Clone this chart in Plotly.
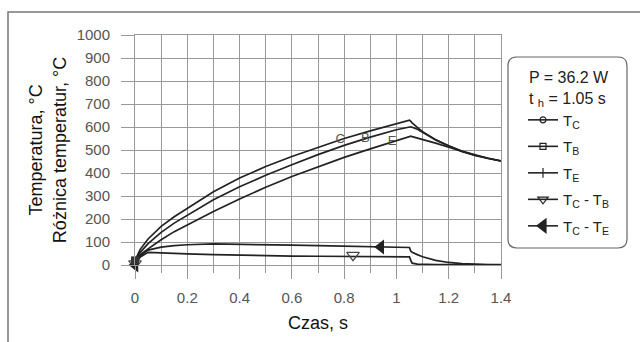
import numpy as np
import plotly.graph_objects as go

# ---------------- data ----------------
t = [0, 0.02, 0.05, 0.1, 0.15, 0.2, 0.3, 0.4, 0.5, 0.6, 0.7, 0.8, 0.9, 1.0, 1.05,
     1.055, 1.06, 1.08, 1.1, 1.15, 1.2, 1.25, 1.3, 1.35, 1.4]
T_C = [20, 68, 113, 168, 210, 247, 318, 378, 428, 472, 512, 550, 583, 613, 630,
       625, 618, 598, 580, 545, 518, 495, 478, 464, 453]
T_B = [20, 55, 93, 142, 182, 217, 284, 340, 390, 436, 480, 520, 556, 588, 602,
       601, 599, 590, 577, 544, 517, 494, 477, 463, 452]
T_E = [20, 45, 70, 110, 145, 175, 233, 287, 338, 385, 428, 468, 505, 540, 560,
       560, 558, 552, 545, 530, 512, 493, 476, 463, 452]
dT_CB = [0, 35, 55, 52, 50, 48, 45, 42, 40, 39, 38, 37, 36, 35, 35,
         20, 8, 4, 3, 2, 2, 1, 1, 1, 1]
dT_CE = [0, 40, 65, 78, 84, 88, 92, 91, 89, 86, 84, 81, 79, 77, 76,
         60, 55, 45, 36, 20, 11, 6, 3, 2, 2]

letter_t = [0.785, 0.881, 0.983]          # positions of C, B, E labels
letters = ["C", "B", "E"]
tri_cb_t = [0, 0.834]                     # open triangle markers on T_C - T_B
tri_ce_t = [0, 0.94]                      # filled triangle markers on T_C - T_E

x_ticks = [0, 0.2, 0.4, 0.6, 0.8, 1.0, 1.2, 1.4]
x_tick_text = ["0", "0.2", "0.4", "0.6", "0.8", "1", "1.2", "1.4"]
y_ticks = list(range(0, 1001, 100))

legend_title = "P = 36.2 W<br>t <sub>h</sub> = 1.05 s"
names = ["T<sub>C</sub>", "T<sub>B</sub>", "T<sub>E</sub>",
         "T<sub>C</sub> - T<sub>B</sub>", "T<sub>C</sub> - T<sub>E</sub>"]

# ---------------- styling ----------------
W, H = 640, 342
ML, MR, MT, MB = 135, 139, 35, 77
PW, PH = W - ML - MR, H - MT - MB
LINE = "#222222"
GRID = "#999999"
FONT = "Liberation Sans, Arial, sans-serif"


def px(p):
    return (p - ML) / PW


def py(p):
    return (H - MB - p) / PH


fig = go.Figure()

for ys in (T_C, T_B, T_E, dT_CB, dT_CE):
    fig.add_trace(go.Scatter(x=t, y=ys, mode="lines", showlegend=False,
                             line=dict(color=LINE, width=1.7), hoverinfo="skip"))

# letter markers on the temperature curves
ly = [np.interp(letter_t[0], t, T_C), np.interp(letter_t[1], t, T_B),
      np.interp(letter_t[2], t, T_E)]
fig.add_trace(go.Scatter(x=letter_t, y=ly, mode="text", text=letters,
                         textfont=dict(family=FONT, size=13, color="#555"),
                         showlegend=False, hoverinfo="skip"))

fig.add_trace(go.Scatter(x=tri_cb_t, y=list(np.interp(tri_cb_t, t, dT_CB) + 6),
                         mode="markers", showlegend=False, cliponaxis=False,
                         marker=dict(symbol="triangle-down-open", size=11,
                                     color="#444", line=dict(width=1.2))))
fig.add_trace(go.Scatter(x=tri_ce_t, y=list(np.interp(tri_ce_t, t, dT_CE)),
                         mode="markers", showlegend=False, cliponaxis=False,
                         marker=dict(symbol="triangle-left", size=13, color=LINE)))
fig.add_trace(go.Scatter(x=[0], y=[T_C[0]], mode="markers", showlegend=False,
                         cliponaxis=False,
                         marker=dict(symbol="square", size=8, color="#333")))

# legend entries
symbols = ["circle-open", "square-open", "line-ns-open", "triangle-down-open", "triangle-left"]
sizes = [6, 6, 7, 9, 12]
for i, (nm, sym, sz) in enumerate(zip(names, symbols, sizes)):
    fig.add_trace(go.Scatter(x=[None], y=[None], mode="lines+markers", name=nm,
                             legendgroup=f"g{i}",
                             line=dict(color=LINE, width=1.6),
                             marker=dict(symbol=sym, size=sz, color=LINE,
                                         line=dict(width=1.2, color=LINE))))

axis_common = dict(showgrid=True, gridcolor=GRID, gridwidth=1,
                   ticks="outside", ticklen=13, tickcolor=GRID, tickwidth=1,
                   showline=True, linecolor=GRID, linewidth=1, mirror=True,
                   zeroline=False,
                   tickfont=dict(family=FONT, size=15, color="#555"),
                   title_font=dict(family=FONT, size=18, color="#111"))

fig.update_xaxes(range=[0, 1.4], tickvals=x_ticks, ticktext=x_tick_text,
                 minor=dict(dtick=0.1, ticklen=7, tickcolor=GRID, showgrid=True,
                            gridcolor=GRID, ticks="outside"),
                 ticklabelstandoff=6,
                 title=dict(text="Czas, s", standoff=11), **axis_common)
fig.update_yaxes(range=[0, 1000], tickvals=y_ticks,
                 ticklabelstandoff=8,
                 title=dict(text="Temperatura, °C<br>Różnica temperatur, °C", standoff=5),
                 **axis_common)

# outer frame and rounded legend box
shapes = [dict(type="path", xref="paper", yref="paper",
               path=f"M {px(8)},{py(400)} L {px(8)},{py(12)} L {px(700)},{py(12)}",
               line=dict(color="#777", width=1.5))]
x0, x1, y0, y1, r = 508, 627, 57, 248, 9
rp = (f"M {px(x0 + r)},{py(y0)} L {px(x1 - r)},{py(y0)} "
      f"Q {px(x1)},{py(y0)} {px(x1)},{py(y0 + r)} L {px(x1)},{py(y1 - r)} "
      f"Q {px(x1)},{py(y1)} {px(x1 - r)},{py(y1)} L {px(x0 + r)},{py(y1)} "
      f"Q {px(x0)},{py(y1)} {px(x0)},{py(y1 - r)} L {px(x0)},{py(y0 + r)} "
      f"Q {px(x0)},{py(y0)} {px(x0 + r)},{py(y0)} Z")
shapes.append(dict(type="path", xref="paper", yref="paper", path=rp,
                   line=dict(color="#666", width=1.2)))

fig.update_layout(
    width=W, height=H,
    margin=dict(l=ML, r=MR, t=MT, b=MB, autoexpand=False),
    paper_bgcolor="white", plot_bgcolor="white",
    font=dict(family=FONT, color="#222"),
    shapes=shapes,
    showlegend=True,
    legend=dict(x=px(523), y=py(62), xanchor="left", yanchor="top",
                xref="paper", yref="paper",
                bgcolor="rgba(0,0,0,0)", borderwidth=0,
                traceorder="grouped", tracegroupgap=4,
                font=dict(family=FONT, size=15, color="#222"),
                title=dict(text=legend_title, side="top center",
                           font=dict(family=FONT, size=16, color="#222"))),
)

fig.write_html("out.html")
